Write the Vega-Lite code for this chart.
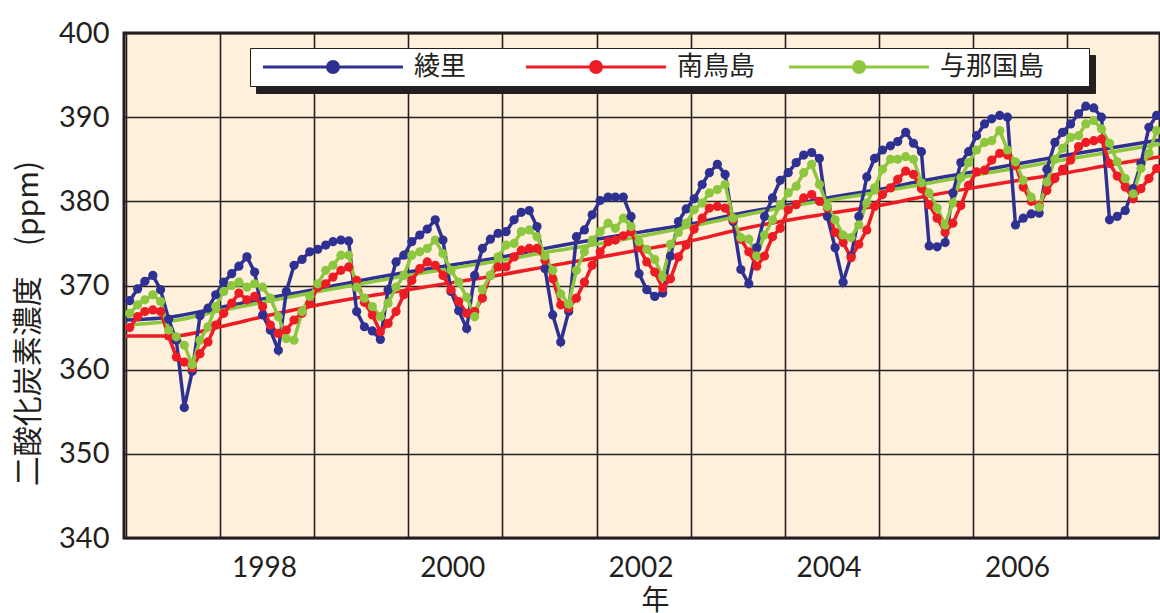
{
  "$schema": "https://vega.github.io/schema/vega-lite/v6.json",
  "width": 1036,
  "height": 505,
  "autosize": {"type": "none"},
  "padding": {"left": 124, "top": 33, "right": 0, "bottom": 75},
  "background": "white",
  "config": {
    "view": {"fill": "#FFF0DB", "stroke": "#231F20", "strokeWidth": 3},
    "font": "Noto Sans CJK JP"
  },
  "datasets": {
    "monthly": [
      {"d":"1997-01-15","綾里":368.2,"南鳥島":365.0,"与那国島":366.7},
      {"d":"1997-02-15","綾里":369.6,"南鳥島":366.3,"与那国島":367.7},
      {"d":"1997-03-15","綾里":370.5,"南鳥島":366.9,"与那国島":368.3},
      {"d":"1997-04-15","綾里":371.2,"南鳥島":367.1,"与那国島":368.9},
      {"d":"1997-05-15","綾里":369.5,"南鳥島":366.9,"与那国島":368.1},
      {"d":"1997-06-15","綾里":366.0,"南鳥島":364.0,"与那国島":364.7},
      {"d":"1997-07-15","綾里":363.5,"南鳥島":361.5,"与那国島":363.9},
      {"d":"1997-08-15","綾里":355.5,"南鳥島":360.9,"与那国島":362.9},
      {"d":"1997-09-15","綾里":359.8,"南鳥島":360.2,"与那国島":360.6},
      {"d":"1997-10-15","綾里":366.4,"南鳥島":361.9,"与那国島":363.5},
      {"d":"1997-11-15","綾里":367.3,"南鳥島":363.3,"与那国島":365.1},
      {"d":"1997-12-15","綾里":368.9,"南鳥島":365.3,"与那国島":367.5},
      {"d":"1998-01-15","綾里":370.4,"南鳥島":366.7,"与那国島":369.3},
      {"d":"1998-02-15","綾里":371.4,"南鳥島":367.9,"与那国島":370.0},
      {"d":"1998-03-15","綾里":372.3,"南鳥島":369.1,"与那国島":370.4},
      {"d":"1998-04-15","綾里":373.4,"南鳥島":368.3,"与那国島":369.8},
      {"d":"1998-05-15","綾里":371.6,"南鳥島":368.7,"与那国島":370.2},
      {"d":"1998-06-15","綾里":366.5,"南鳥島":367.5,"与那国島":369.8},
      {"d":"1998-07-15","綾里":364.7,"南鳥島":365.3,"与那国島":368.5},
      {"d":"1998-08-15","綾里":362.3,"南鳥島":364.3,"与那国島":366.3},
      {"d":"1998-09-15","綾里":369.3,"南鳥島":364.7,"与那国島":363.7},
      {"d":"1998-10-15","綾里":372.4,"南鳥島":365.9,"与那国島":363.5},
      {"d":"1998-11-15","綾里":373.1,"南鳥島":366.7,"与那国島":366.9},
      {"d":"1998-12-15","綾里":374.0,"南鳥島":367.9,"与那国島":368.7},
      {"d":"1999-01-15","綾里":374.3,"南鳥島":369.8,"与那国島":370.2},
      {"d":"1999-02-15","綾里":374.8,"南鳥島":370.2,"与那国島":371.8},
      {"d":"1999-03-15","綾里":375.2,"南鳥島":371.0,"与那国島":372.4},
      {"d":"1999-04-15","綾里":375.4,"南鳥島":371.8,"与那国島":373.6},
      {"d":"1999-05-15","綾里":375.3,"南鳥島":372.2,"与那国島":373.6},
      {"d":"1999-06-15","綾里":366.9,"南鳥島":370.6,"与那国島":369.8},
      {"d":"1999-07-15","綾里":365.1,"南鳥島":368.0,"与那国島":368.5},
      {"d":"1999-08-15","綾里":364.6,"南鳥島":366.5,"与那国島":367.5},
      {"d":"1999-09-15","綾里":363.6,"南鳥島":364.5,"与那国島":366.3},
      {"d":"1999-10-15","綾里":369.5,"南鳥島":365.5,"与那国島":367.9},
      {"d":"1999-11-15","綾里":372.8,"南鳥島":366.9,"与那国島":369.8},
      {"d":"1999-12-15","綾里":373.6,"南鳥島":368.9,"与那国島":371.2},
      {"d":"2000-01-15","綾里":375.2,"南鳥島":370.6,"与那国島":373.6},
      {"d":"2000-02-15","綾里":376.0,"南鳥島":372.0,"与那国島":374.0},
      {"d":"2000-03-15","綾里":376.7,"南鳥島":372.8,"与那国島":374.4},
      {"d":"2000-04-15","綾里":377.8,"南鳥島":372.4,"与那国島":375.4},
      {"d":"2000-05-15","綾里":375.4,"南鳥島":371.2,"与那国島":373.8},
      {"d":"2000-06-15","綾里":369.3,"南鳥島":369.5,"与那国島":371.8},
      {"d":"2000-07-15","綾里":367.0,"南鳥島":368.1,"与那国島":370.4},
      {"d":"2000-08-15","綾里":364.9,"南鳥島":366.7,"与那国島":368.6},
      {"d":"2000-09-15","綾里":371.2,"南鳥島":366.9,"与那国島":366.3},
      {"d":"2000-10-15","綾里":374.4,"南鳥島":368.5,"与那国島":369.5},
      {"d":"2000-11-15","綾里":375.5,"南鳥島":371.2,"与那国島":371.2},
      {"d":"2000-12-15","綾里":376.2,"南鳥島":372.2,"与那国島":373.4},
      {"d":"2001-01-15","綾里":376.4,"南鳥島":372.2,"与那国島":374.8},
      {"d":"2001-02-15","綾里":377.8,"南鳥島":373.4,"与那国島":375.0},
      {"d":"2001-03-15","綾里":378.7,"南鳥島":374.2,"与那国島":376.4},
      {"d":"2001-04-15","綾里":378.9,"南鳥島":374.4,"与那国島":376.6},
      {"d":"2001-05-15","綾里":377.0,"南鳥島":374.4,"与那国島":375.8},
      {"d":"2001-06-15","綾里":372.0,"南鳥島":373.0,"与那国島":373.5},
      {"d":"2001-07-15","綾里":366.5,"南鳥島":370.8,"与那国島":371.8},
      {"d":"2001-08-15","綾里":363.3,"南鳥島":367.7,"与那国島":369.0},
      {"d":"2001-09-15","綾里":366.9,"南鳥島":367.3,"与那国島":367.8},
      {"d":"2001-10-15","綾里":375.8,"南鳥島":368.5,"与那国島":371.8},
      {"d":"2001-11-15","綾里":376.6,"南鳥島":370.4,"与那国島":374.0},
      {"d":"2001-12-15","綾里":378.4,"南鳥島":372.4,"与那国島":375.4},
      {"d":"2002-01-15","綾里":380.1,"南鳥島":374.0,"与那国島":376.4},
      {"d":"2002-02-15","綾里":380.5,"南鳥島":375.2,"与那国島":377.4},
      {"d":"2002-03-15","綾里":380.5,"南鳥島":375.4,"与那国島":376.8},
      {"d":"2002-04-15","綾里":380.5,"南鳥島":375.9,"与那国島":378.0},
      {"d":"2002-05-15","綾里":378.2,"南鳥島":376.4,"与那国島":377.0},
      {"d":"2002-06-15","綾里":371.4,"南鳥島":374.5,"与那国島":375.2},
      {"d":"2002-07-15","綾里":369.5,"南鳥島":372.8,"与那国島":374.3},
      {"d":"2002-08-15","綾里":368.7,"南鳥島":371.6,"与那国島":373.1},
      {"d":"2002-09-15","綾里":369.1,"南鳥島":369.7,"与那国島":371.0},
      {"d":"2002-10-15","綾里":373.5,"南鳥島":370.8,"与那国島":374.9},
      {"d":"2002-11-15","綾里":377.6,"南鳥島":373.4,"与那国島":376.3},
      {"d":"2002-12-15","綾里":379.1,"南鳥島":374.8,"与那国島":377.4},
      {"d":"2003-01-15","綾里":380.3,"南鳥島":376.7,"与那国島":379.0},
      {"d":"2003-02-15","綾里":382.0,"南鳥島":378.0,"与那国島":379.8},
      {"d":"2003-03-15","綾里":383.4,"南鳥島":379.2,"与那国島":381.0},
      {"d":"2003-04-15","綾里":384.4,"南鳥島":379.4,"与那国島":381.4},
      {"d":"2003-05-15","綾里":383.2,"南鳥島":379.2,"与那国島":382.0},
      {"d":"2003-06-15","綾里":377.6,"南鳥島":377.8,"与那国島":378.0},
      {"d":"2003-07-15","綾里":371.9,"南鳥島":375.5,"与那国島":375.7},
      {"d":"2003-08-15","綾里":370.2,"南鳥島":374.0,"与那国島":375.5},
      {"d":"2003-09-15","綾里":374.5,"南鳥島":372.3,"与那国島":373.5},
      {"d":"2003-10-15","綾里":378.2,"南鳥島":373.5,"与那国島":376.0},
      {"d":"2003-11-15","綾里":380.4,"南鳥島":375.8,"与那国島":377.8},
      {"d":"2003-12-15","綾里":382.5,"南鳥島":376.8,"与那国島":379.6},
      {"d":"2004-01-15","綾里":383.4,"南鳥島":379.0,"与那国島":381.0},
      {"d":"2004-02-15","綾里":384.6,"南鳥島":379.6,"与那国島":381.8},
      {"d":"2004-03-15","綾里":385.5,"南鳥島":380.4,"与那国島":383.4},
      {"d":"2004-04-15","綾里":385.8,"南鳥島":380.8,"与那国島":384.4},
      {"d":"2004-05-15","綾里":385.1,"南鳥島":380.0,"与那国島":382.0},
      {"d":"2004-06-15","綾里":378.2,"南鳥島":379.2,"与那国島":379.4},
      {"d":"2004-07-15","綾里":374.5,"南鳥島":376.3,"与那国島":377.8},
      {"d":"2004-08-15","綾里":370.4,"南鳥島":375.1,"与那国島":376.0},
      {"d":"2004-09-15","綾里":373.5,"南鳥島":373.3,"与那国島":375.7},
      {"d":"2004-10-15","綾里":378.2,"南鳥島":374.9,"与那国島":377.2},
      {"d":"2004-11-15","綾里":382.9,"南鳥島":376.6,"与那国島":379.8},
      {"d":"2004-12-15","綾里":385.1,"南鳥島":379.4,"与那国島":381.6},
      {"d":"2005-01-15","綾里":386.1,"南鳥島":380.8,"与那国島":383.8},
      {"d":"2005-02-15","綾里":386.6,"南鳥島":381.6,"与那国島":385.0},
      {"d":"2005-03-15","綾里":387.1,"南鳥島":382.6,"与那国島":385.0},
      {"d":"2005-04-15","綾里":388.2,"南鳥島":383.6,"与那国島":385.3},
      {"d":"2005-05-15","綾里":386.9,"南鳥島":383.2,"与那国島":385.0},
      {"d":"2005-06-15","綾里":385.9,"南鳥島":381.5,"与那国島":382.2},
      {"d":"2005-07-15","綾里":374.7,"南鳥島":379.6,"与那国島":381.0},
      {"d":"2005-08-15","綾里":374.6,"南鳥島":378.0,"与那国島":379.2},
      {"d":"2005-09-15","綾里":375.1,"南鳥島":376.3,"与那国島":377.2},
      {"d":"2005-10-15","綾里":381.0,"南鳥島":377.4,"与那国島":379.8},
      {"d":"2005-11-15","綾里":384.6,"南鳥島":379.5,"与那国島":382.8},
      {"d":"2005-12-15","綾里":385.9,"南鳥島":381.9,"与那国島":384.6},
      {"d":"2006-01-15","綾里":387.8,"南鳥島":383.5,"与那国島":386.1},
      {"d":"2006-02-15","綾里":389.2,"南鳥島":383.7,"与那国島":387.0},
      {"d":"2006-03-15","綾里":389.8,"南鳥島":384.9,"与那国島":387.2},
      {"d":"2006-04-15","綾里":390.2,"南鳥島":385.7,"与那国島":388.4},
      {"d":"2006-05-15","綾里":390.0,"南鳥島":385.5,"与那国島":386.1},
      {"d":"2006-06-15","綾里":377.2,"南鳥島":384.3,"与那国島":384.7},
      {"d":"2006-07-15","綾里":378.0,"南鳥島":381.7,"与那国島":382.5},
      {"d":"2006-08-15","綾里":378.5,"南鳥島":380.0,"与那国島":380.5},
      {"d":"2006-09-15","綾里":378.6,"南鳥島":379.5,"与那国島":379.3},
      {"d":"2006-10-15","綾里":383.8,"南鳥島":381.3,"与那国島":382.3},
      {"d":"2006-11-15","綾里":387.0,"南鳥島":382.7,"与那国島":385.0},
      {"d":"2006-12-15","綾里":388.2,"南鳥島":383.8,"与那国島":386.3},
      {"d":"2007-01-15","綾里":389.2,"南鳥島":384.9,"与那国島":387.6},
      {"d":"2007-02-15","綾里":390.4,"南鳥島":386.5,"与那国島":387.8},
      {"d":"2007-03-15","綾里":391.3,"南鳥島":387.0,"与那国島":389.2},
      {"d":"2007-04-15","綾里":391.1,"南鳥島":387.2,"与那国島":389.6},
      {"d":"2007-05-15","綾里":390.0,"南鳥島":387.4,"与那国島":388.6},
      {"d":"2007-06-15","綾里":377.8,"南鳥島":384.5,"与那国島":386.9},
      {"d":"2007-07-15","綾里":378.2,"南鳥島":383.0,"与那国島":384.7},
      {"d":"2007-08-15","綾里":378.9,"南鳥島":381.7,"与那国島":382.7},
      {"d":"2007-09-15","綾里":381.5,"南鳥島":380.3,"与那国島":380.9},
      {"d":"2007-10-15","綾里":384.5,"南鳥島":381.5,"与那国島":383.9},
      {"d":"2007-11-15","綾里":388.8,"南鳥島":382.7,"与那国島":385.7},
      {"d":"2007-12-15","綾里":390.2,"南鳥島":383.9,"与那国島":388.4}
    ],
    "trend": [
      {"d":"1997-01-01","綾里":365.9,"南鳥島":364.0,"与那国島":365.3},
      {"d":"1997-07-01","綾里":366.3,"南鳥島":364.0,"与那国島":365.8},
      {"d":"1998-01-01","綾里":367.4,"南鳥島":365.1,"与那国島":367.0},
      {"d":"1998-07-01","綾里":368.5,"南鳥島":366.4,"与那国島":368.1},
      {"d":"1999-01-01","綾里":369.5,"南鳥島":367.6,"与那国島":369.2},
      {"d":"1999-07-01","綾里":370.6,"南鳥島":368.6,"与那国島":370.2},
      {"d":"2000-01-01","綾里":371.6,"南鳥島":369.5,"与那国島":371.2},
      {"d":"2000-07-01","綾里":372.5,"南鳥島":370.4,"与那国島":372.1},
      {"d":"2001-01-01","綾里":373.4,"南鳥島":371.3,"与那国島":373.0},
      {"d":"2001-07-01","綾里":374.5,"南鳥島":372.3,"与那国島":374.0},
      {"d":"2002-01-01","綾里":375.5,"南鳥島":373.3,"与那国島":374.9},
      {"d":"2002-07-01","綾里":376.4,"南鳥島":374.3,"与那国島":375.9},
      {"d":"2003-01-01","綾里":377.3,"南鳥島":375.3,"与那国島":377.0},
      {"d":"2003-07-01","綾里":378.5,"南鳥島":376.6,"与那国島":378.2},
      {"d":"2004-01-01","綾里":379.5,"南鳥島":377.7,"与那国島":379.3},
      {"d":"2004-07-01","綾里":380.5,"南鳥島":378.6,"与那国島":380.2},
      {"d":"2005-01-01","綾里":381.4,"南鳥島":379.5,"与那国島":381.1},
      {"d":"2005-07-01","綾里":382.5,"南鳥島":380.6,"与那国島":382.1},
      {"d":"2006-01-01","綾里":383.5,"南鳥島":381.6,"与那国島":383.1},
      {"d":"2006-07-01","綾里":384.5,"南鳥島":382.5,"与那国島":384.0},
      {"d":"2007-01-01","綾里":385.5,"南鳥島":383.4,"与那国島":385.0},
      {"d":"2007-07-01","綾里":386.4,"南鳥島":384.4,"与那国島":385.9},
      {"d":"2007-12-28","綾里":387.3,"南鳥島":385.3,"与那国島":386.8}
    ]
  },
  "encoding": {
    "x": {
      "field": "d",
      "type": "temporal",
      "scale": {"domain": [{"year": 1996, "month": 12, "date": 24}, {"year": 2007, "month": 12, "date": 28}]},
      "axis": {
        "title": "年",
        "tickCount": {"interval": "year", "step": 1},
        "format": "%Y",
        "labelExpr": "year(datum.value) % 2 == 0 ? datum.label : ''",
        "labelOffset": 44,
        "labelPadding": 16,
        "labelFontSize": 28,
        "labelFont": "Lato",
        "labelColor": "#231F20",
        "labelFlush": false,
        "labelOverlap": false,
        "ticks": false,
        "domain": false,
        "grid": true,
        "gridColor": "#231F20",
        "gridWidth": 1.6,
        "gridOpacity": 1,
        "titleFontSize": 28,
        "titleFontWeight": "normal",
        "titleColor": "#231F20",
        "titleX": 531,
        "titleY": 49,
        "titleAlign": "center",
        "titleBaseline": "top"
      }
    },
    "y": {
      "field": "ppm",
      "type": "quantitative",
      "scale": {"domain": [340, 400], "nice": false, "zero": false},
      "axis": {
        "title": "二酸化炭素濃度　(ppm)",
        "values": [340, 350, 360, 370, 380, 390, 400],
        "labelFontSize": 29,
        "labelFont": "Lato",
        "labelColor": "#231F20",
        "labelPadding": 15,
        "ticks": false,
        "domain": false,
        "grid": true,
        "gridColor": "#231F20",
        "gridWidth": 1.6,
        "gridOpacity": 1,
        "titleFontSize": 30,
        "titleFontWeight": "normal",
        "titleColor": "#231F20",
        "titleX": -96,
        "titleY": 290,
        "titleAngle": 270,
        "titleAlign": "center",
        "titleBaseline": "middle"
      }
    },
    "color": {
      "field": "site",
      "type": "nominal",
      "scale": {"domain": ["綾里", "南鳥島", "与那国島"], "range": ["#2E3192", "#ED1C24", "#8DC63F"]},
      "legend": {
        "title": "　",
        "titleOrient": "right",
        "titlePadding": 39,
        "titleFontSize": 26,
        "orient": "none",
        "legendX": 126,
        "legendY": 15,
        "direction": "horizontal",
        "fillColor": "white",
        "strokeColor": "#231F20",
        "padding": 6,
        "symbolType": "M-7,0H7M0.55,0A0.55,0.55,0,1,1,-0.55,0A0.55,0.55,0,1,1,0.55,0Z",
        "symbolSize": 400,
        "symbolStrokeWidth": 3,
        "symbolOffset": 64,
        "labelOffset": 68,
        "labelFontSize": 26,
        "labelFont": "Noto Sans CJK JP",
        "labelColor": "#231F20",
        "gridAlign": "all",
        "columnPadding": -15,
        "zindex": 2,
        "encode": {
          "symbols": {
            "update": {
              "fill": {"scale": "color", "field": "value"},
              "stroke": {"scale": "color", "field": "value"},
              "opacity": {"value": 1}
            }
          }
        }
      }
    }
  },
  "layer": [
    {
      "data": {"name": "trend"},
      "transform": [{"fold": ["綾里", "南鳥島", "与那国島"], "as": ["site", "ppm"]}],
      "mark": {"type": "line", "interpolate": "monotone", "strokeWidth": 3.5}
    },
    {
      "data": {"name": "monthly"},
      "transform": [{"fold": ["綾里", "南鳥島", "与那国島"], "as": ["site", "ppm"]}],
      "mark": {"type": "line", "strokeWidth": 3.5, "point": {"filled": true, "size": 85}},
      "encoding": {
        "strokeDash": {
          "field": "site",
          "type": "nominal",
          "sort": ["綾里", "南鳥島", "与那国島"],
          "scale": {"range": [[1, 0], [1, 0], [1, 0]]},
          "legend": {
            "title": "　",
            "titleOrient": "right",
            "titlePadding": 39,
            "titleFontSize": 26,
            "orient": "none",
            "legendX": 132,
            "legendY": 22,
            "direction": "horizontal",
            "fillColor": "#231F20",
            "strokeColor": "#231F20",
            "padding": 6,
            "symbolType": "M-7,0H7M0.55,0A0.55,0.55,0,1,1,-0.55,0A0.55,0.55,0,1,1,0.55,0Z",
            "symbolSize": 400,
            "symbolStrokeWidth": 3,
            "symbolOffset": 64,
            "symbolOpacity": 0,
            "labelOffset": 68,
            "labelFontSize": 26,
            "labelFont": "Noto Sans CJK JP",
            "labelOpacity": 0,
            "gridAlign": "all",
            "columnPadding": -15,
            "zindex": 1
          }
        }
      }
    }
  ]
}
